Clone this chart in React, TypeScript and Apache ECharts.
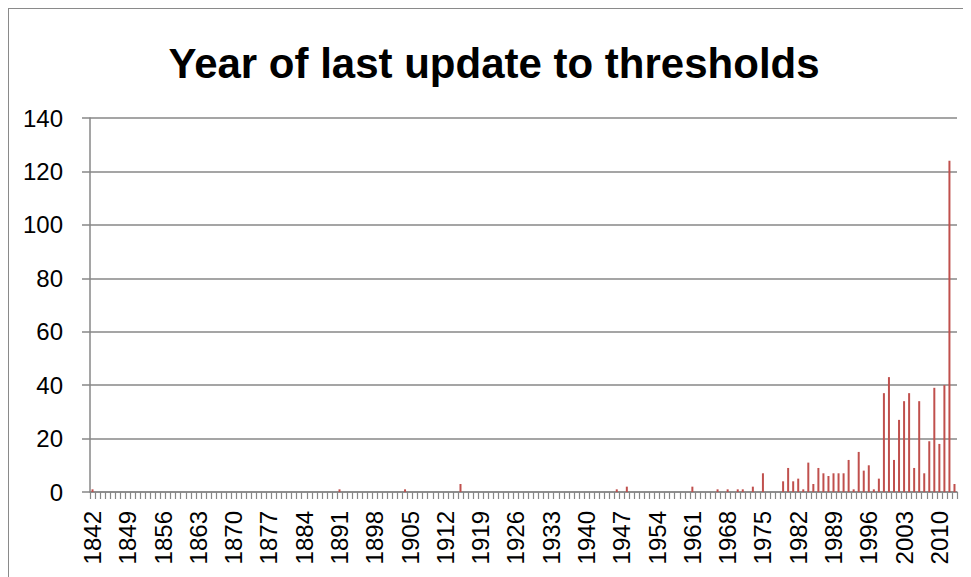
import React, { useEffect, useRef } from "react";
import * as echarts from "echarts";

const TITLE = "Year of last update to thresholds";
const FIRST_YEAR = 1842;
const LAST_YEAR = 2013;

// Years that have at least one update, and the count for each
const updateYears = [
  1842, 1891, 1904, 1915, 1946, 1948, 1961, 1966, 1968, 1970, 1971, 1973, 1975,
  1979, 1980, 1981, 1982, 1983, 1984, 1985, 1986, 1987, 1988, 1989, 1990, 1991,
  1992, 1993, 1994, 1995, 1996, 1997, 1998, 1999, 2000, 2001, 2002, 2003, 2004,
  2005, 2006, 2007, 2008, 2009, 2010, 2011, 2012, 2013,
];
const updateCounts = [
  1, 1, 1, 3, 1, 2, 2, 1, 1, 1, 1, 2, 7,
  4, 9, 4, 5, 1, 11, 3, 9, 7, 6, 7, 7, 7,
  12, 1, 15, 8, 10, 1, 5, 37, 43, 12, 27, 34, 37,
  9, 34, 7, 19, 39, 18, 40, 124, 3,
];
const yTicks = [0, 20, 40, 60, 80, 100, 120, 140];

export default function App() {
  const ref = useRef<HTMLDivElement>(null);

  useEffect(() => {
    if (!ref.current) return;
    const chart = echarts.init(ref.current, undefined, { renderer: "svg" });

    const categories: string[] = [];
    for (let y = FIRST_YEAR; y <= LAST_YEAR; y++) categories.push(String(y));
    const lookup: Record<string, number> = {};
    updateYears.forEach((y, i) => (lookup[String(y)] = updateCounts[i]));
    const values = categories.map((c) => (c in lookup ? lookup[c] : 0));

    const gray = "#878787";
    const font = "'Liberation Sans', Arial, sans-serif";

    chart.setOption({
      animation: false,
      title: {
        text: TITLE,
        left: 480,
        textAlign: "center",
        top: 28,
        textStyle: {
          fontFamily: font,
          fontWeight: "bold",
          fontSize: 42,
          color: "#000",
        },
      },
      grid: { left: 81, top: 109, right: 14, bottom: 85, containLabel: false },
      xAxis: {
        type: "category",
        data: categories,
        boundaryGap: true,
        axisLine: { lineStyle: { color: gray, width: 1.5 } },
        axisTick: { show: true, interval: 0, length: 7, lineStyle: { color: gray, width: 1.2 } },
        axisLabel: {
          interval: 6,
          rotate: 90,
          margin: 19,
          fontFamily: font,
          fontSize: 24,
          color: "#000",
        },
      },
      yAxis: {
        type: "value",
        min: yTicks[0],
        max: yTicks[yTicks.length - 1],
        interval: 20,
        axisLine: { show: true, lineStyle: { color: gray, width: 1.5 } },
        axisTick: { show: true, length: 8, lineStyle: { color: gray, width: 1.5 } },
        splitLine: { lineStyle: { color: gray, width: 1.5 } },
        axisLabel: {
          margin: 27,
          fontFamily: font,
          fontSize: 24,
          color: "#000",
        },
      },
      series: [
        {
          type: "bar",
          data: values,
          barWidth: 2,
          itemStyle: { color: "#C0504D" },
        },
      ],
    });

    return () => chart.dispose();
  }, []);

  return (
    <div
      style={{
        width: 962,
        height: 568,
        borderLeft: "1px solid #8a8a8a",
        borderTop: "1px solid #8a8a8a",
        boxSizing: "content-box",
      }}
    >
      <div ref={ref} style={{ width: 962, height: 568 }} />
    </div>
  );
}
